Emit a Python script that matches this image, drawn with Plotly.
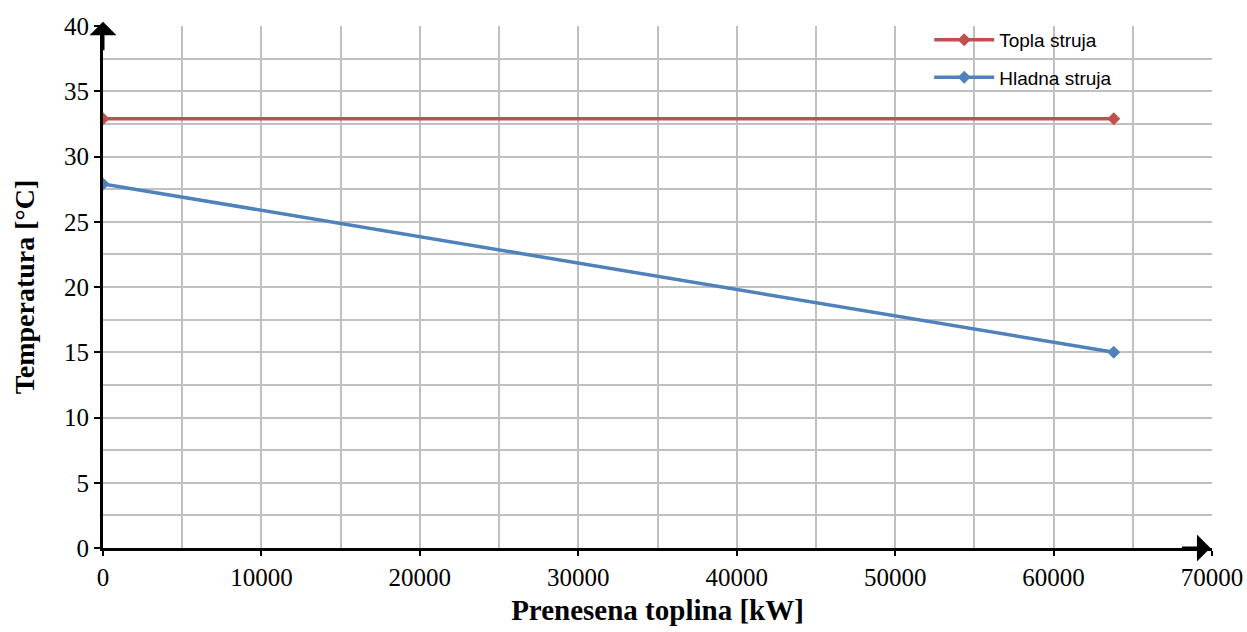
import plotly.graph_objects as go

heat_kw = [0, 63800]
hot_temp = [32.9, 32.9]
cold_temp = [27.9, 15.0]
series_names = ["Topla struja", "Hladna struja"]
series_colors = ["#C0504D", "#4F81BD"]

fig = go.Figure()
for i, (name, ys, col) in enumerate(zip(series_names, [hot_temp, cold_temp], series_colors)):
    fig.add_trace(go.Scatter(
        x=heat_kw, y=ys, name=name, mode="lines+markers",
        line=dict(color=col, width=3.5),
        marker=dict(symbol="diamond", size=10, color=col),
        legendgroup=f"g{i}",
    ))

serif = "Liberation Serif, Times New Roman, serif"
fig.update_layout(
    width=1247, height=632,
    margin=dict(l=103, r=35, t=26, b=84),
    plot_bgcolor="white", paper_bgcolor="white",
    showlegend=True,
    legend=dict(x=0.745, y=1.01, xanchor="left", yanchor="top",
                font=dict(family="Liberation Sans, Arial, sans-serif", size=19, color="black"),
                bgcolor="rgba(0,0,0,0)", tracegroupgap=10, traceorder="grouped",
                itemwidth=60),
    xaxis=dict(
        range=[0, 70000], dtick=10000, tick0=0, tickformat="d",
        showgrid=True, gridcolor="#C0C0C0", gridwidth=1.5,
        minor=dict(dtick=5000, showgrid=True, gridcolor="#C0C0C0", gridwidth=1.5),
        showline=True, linecolor="black", linewidth=3,
        ticks="outside", ticklen=5, tickwidth=2, tickcolor="black",
        tickfont=dict(family=serif, size=25, color="black"),
        title=dict(text="<b>Prenesena toplina [kW]</b>",
                   font=dict(family=serif, size=29, color="black"), standoff=10),
        zeroline=False, automargin=False,
    ),
    yaxis=dict(
        range=[0, 40], dtick=5, tick0=0,
        showgrid=True, gridcolor="#C0C0C0", gridwidth=1.5,
        minor=dict(dtick=2.5, showgrid=True, gridcolor="#C0C0C0", gridwidth=1.5),
        showline=True, linecolor="black", linewidth=3,
        ticks="outside", ticklen=6, tickwidth=2, tickcolor="black",
        tickfont=dict(family=serif, size=25, color="black"),
        title=dict(text="<b>Temperatura [°C]</b>",
                   font=dict(family=serif, size=28, color="black"), standoff=22),
        zeroline=False, automargin=False,
    ),
)

# axis arrows
fig.add_annotation(x=0, y=1.008, xref="x", yref="paper", ax=0, ay=30,
                   showarrow=True, arrowhead=1, arrowsize=1.5, arrowwidth=3, arrowcolor="black", text="")
fig.add_annotation(x=69900, y=0, xref="x", yref="y", ax=-30, ay=0,
                   showarrow=True, arrowhead=1, arrowsize=1.5, arrowwidth=3, arrowcolor="black", text="")

fig.write_html("out.html",
               config={"displayModeBar": False},
               post_script="document.body.style.margin='0';document.body.style.overflow='hidden';")
